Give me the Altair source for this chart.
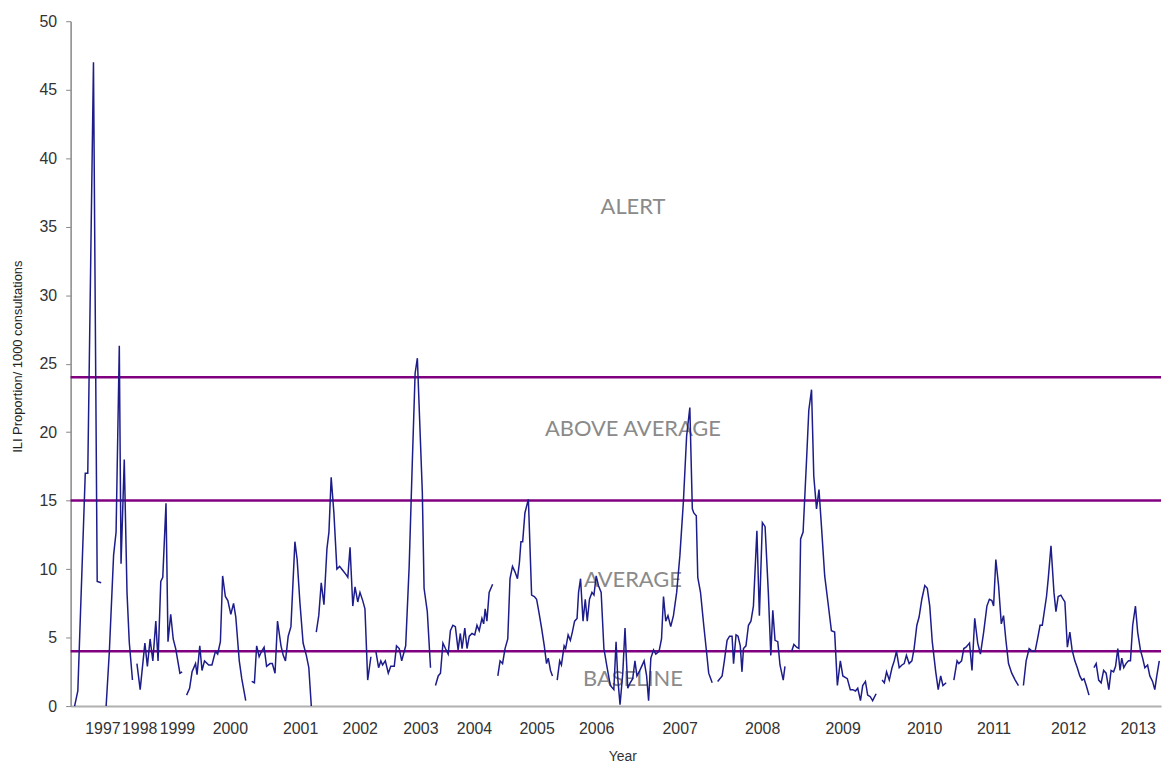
import altair as alt
import pandas as pd

# ---- data: weekly ILI proportion, segments separated by gaps in reporting ----
seg_weeks = [
    [1.6, 2.9, 5.9, 6.9, 9.2, 10.7, 12.3],
    [14.3, 15.6, 17.3, 18.3, 19.6, 20.3, 21.6, 22.7, 23.6, 24.9],
    [26.7, 28.0, 29.9, 30.9, 32.0, 33.1, 34.3, 35.2, 36.3, 37.1, 38.4, 39.2, 40.3, 41.3, 42.3, 44.0, 44.9],
    [46.7, 47.9, 48.9, 50.3, 50.9, 52.0, 52.9, 53.9, 55.6, 56.9, 58.3, 59.2, 60.3, 61.2, 62.3, 63.3, 64.5,
     65.6, 66.5, 67.9, 68.9, 70.5],
    [72.9, 74.0, 74.9, 75.9, 76.9, 77.9, 78.9, 80.3, 81.2, 82.3, 83.3, 84.7, 85.6, 86.5, 87.6, 88.7, 90.3,
     91.2, 92.3, 93.6, 94.9, 95.9, 96.9],
    [98.9, 99.9, 100.9, 102.0, 103.2, 104.0, 104.9, 106.0, 107.2, 108.3, 109.6, 110.9, 111.6, 112.5, 113.6,
     114.5, 115.6, 116.5, 117.6, 118.5, 119.6, 120.9],
    [122.9, 124.0, 124.9, 125.6, 126.7, 127.9, 128.9, 130.3, 131.2, 132.3, 133.3, 134.9, 136.3, 137.6, 138.7,
     139.6, 141.6, 142.3, 143.6, 144.9],
    [146.9, 148.0, 148.9, 149.9, 150.9, 152.0, 152.9, 153.9, 154.9, 156.0, 156.9, 157.6, 158.7, 159.6, 160.5,
     161.6, 162.7, 163.6, 164.5, 165.6, 166.3, 166.9, 167.6, 168.5, 169.9],
    [172.0, 172.9, 173.9, 174.9, 176.0, 176.9, 177.9, 178.9, 179.9, 180.7, 181.3, 182.0, 182.9, 184.3, 185.6,
     186.7, 187.6, 188.5, 189.6, 190.7, 191.6, 192.3, 193.2, 194.0],
    [195.9, 196.9, 197.6, 198.7, 199.3, 200.3, 201.2, 202.0, 202.9, 203.9, 204.5, 205.3, 206.3, 207.2, 208.0,
     208.9, 209.9, 210.7, 211.6, 212.5, 213.6, 214.7, 216.0, 217.3, 218.7, 219.6, 220.3, 221.2, 222.3, 223.2,
     224.3, 225.3, 226.3, 227.2, 228.0, 228.9, 229.9, 230.9, 231.9, 232.7, 233.6, 234.7, 235.6, 236.9, 237.9,
     238.7, 239.6, 240.5, 241.6, 242.7, 244.0, 245.3, 246.7, 248.0, 249.3, 250.3, 250.9, 251.9, 252.5, 253.6,
     254.9, 256.0, 256.9, 258.3],
    [260.5, 262.3, 263.2, 264.3, 265.3, 266.3, 266.9, 267.9, 268.7, 269.6, 270.3, 270.9, 271.9, 272.9, 273.9,
     274.9, 276.3, 277.3, 278.5, 279.6, 280.9, 281.9, 282.7, 283.6, 284.7, 285.6, 286.9, 287.6],
    [290.3, 291.2, 292.3, 293.2, 293.9, 294.9, 296.3, 297.2, 298.3, 299.2, 300.3, 301.3, 302.3, 303.6, 304.9,
     306.3, 307.6, 308.7, 309.9, 310.9, 312.7, 313.9, 314.9, 316.0, 316.9, 318.0, 318.9, 320.0, 320.9, 321.9,
     322.9, 324.3],
    [326.7, 327.6, 328.5, 329.6, 330.7, 331.6, 332.5, 333.6, 334.7, 335.6, 336.5, 337.6, 338.7, 339.6, 340.7,
     341.6, 342.7, 343.9, 344.9, 345.9, 346.9, 348.3, 349.3, 350.3, 351.2, 352.5],
    [355.6, 356.9, 357.6, 358.7, 359.6, 360.5, 361.9, 362.9, 364.0, 365.2, 366.3, 367.6, 368.9, 369.9, 370.9,
     371.6, 372.5, 373.6, 374.7, 375.6, 376.5, 377.6, 378.9, 380.3, 381.6],
    [383.6, 384.7, 385.9, 387.2, 388.3, 389.3, 390.3, 391.2, 392.0, 392.9, 393.6, 394.7, 395.9, 396.7, 397.6,
     398.7, 399.6, 400.3, 401.3, 402.3, 403.2, 404.3, 405.3, 406.3, 407.2, 408.0, 408.9, 410.0],
    [412.0, 412.9, 413.9, 414.9, 415.9, 416.9, 418.0, 418.9, 419.9, 420.7, 421.6, 422.5, 423.2, 424.0, 424.9,
     425.9, 426.7, 427.6, 428.7, 429.6, 430.7, 431.6, 432.5, 433.6, 434.5, 435.6, 436.5, 437.3, 438.3],
]

seg_values = [
    [0, 1.1, 17, 17, 47, 9.1, 9.0],
    [0, 4.0, 11.0, 12.7, 26.3, 10.4, 18.0, 8.3, 4.7, 1.9],
    [3.1, 1.2, 4.6, 2.9, 4.9, 3.3, 6.2, 3.3, 9.1, 9.4, 14.8, 4.7, 6.7, 4.9, 4.2, 2.4, 2.5],
    [0.8, 1.3, 2.5, 3.1, 2.3, 4.4, 2.6, 3.3, 3.0, 3.0, 4.0, 3.8, 4.7, 9.5, 8.0, 7.7, 6.7,
     7.5, 6.5, 3.3, 2.0, 0.4],
    [1.8, 1.7, 4.4, 3.6, 4.0, 4.3, 2.9, 3.1, 3.1, 2.4, 6.2, 4.4, 3.7, 3.3, 5.1, 5.8, 12.0,
     10.7, 7.6, 4.6, 3.7, 2.8, 0],
    [5.4, 6.6, 9.0, 7.4, 11.5, 12.7, 16.7, 14.1, 10.0, 10.2, 9.9, 9.6, 9.4, 11.6, 7.3,
     8.7, 7.6, 8.3, 7.7, 7.1, 1.9, 3.6],
    [4.0, 2.8, 3.3, 3.0, 3.3, 2.4, 2.9, 2.9, 4.4, 4.2, 3.3, 4.4, 10.2, 18.0, 24.3,
     25.4, 15.6, 8.6, 6.9, 2.8],
    [1.5, 2.2, 2.4, 4.6, 4.2, 3.8, 5.5, 5.9, 5.8, 4.1, 5.3, 4.2, 5.7, 4.2, 5.1,
     5.3, 5.2, 5.9, 5.5, 6.4, 6.0, 7.1, 6.2, 8.3, 8.9],
    [2.2, 3.3, 3.1, 4.2, 4.9, 9.3, 10.2, 9.8, 9.3, 10.5, 12.0, 12.0, 14.1, 15.1, 8.1,
     8.0, 7.8, 6.9, 5.7, 4.4, 3.1, 3.5, 2.6, 2.2],
    [1.9, 3.3, 3.0, 4.4, 4.2, 5.2, 4.8, 5.4, 6.2, 6.4, 8.3, 9.3, 6.2, 7.8, 6.2,
     7.8, 8.3, 8.1, 9.5, 8.8, 8.3, 4.2, 2.8, 1.5, 1.2, 4.7, 2.0, 0.1, 2.4, 5.7,
     1.3, 1.7, 2.0, 3.3, 2.2, 2.5, 2.9, 3.3, 2.2, 0.4, 3.5, 4.1, 3.8, 4.0, 4.9,
     8.0, 6.2, 6.6, 5.8, 6.6, 8.3, 11.0, 14.9, 19.7, 21.8, 14.4, 14.1, 13.9, 9.4, 8.3,
     5.9, 4.0, 2.4, 1.7],
    [1.8, 2.2, 3.3, 4.8, 5.1, 5.1, 3.1, 5.2, 5.1, 4.4, 2.5, 4.2, 4.4, 5.9, 6.2,
     7.3, 12.8, 6.6, 13.4, 13.1, 8.3, 3.7, 7.0, 4.8, 4.7, 3.0, 1.9, 2.9],
    [4.0, 4.5, 4.3, 4.2, 12.2, 12.7, 18.0, 21.6, 23.1, 16.8, 14.4, 15.8, 13.1, 9.5, 7.6,
     5.5, 5.4, 1.5, 3.3, 2.2, 2.0, 1.2, 1.2, 1.1, 1.3, 0.4, 1.5, 1.8, 0.8, 0.7,
     0.4, 0.9],
    [1.9, 1.7, 2.5, 1.9, 2.8, 3.3, 4.0, 2.8, 3.0, 3.1, 3.7, 3.1, 3.3, 4.2, 5.9,
     6.5, 7.8, 8.8, 8.6, 7.3, 4.7, 2.5, 1.2, 2.2, 1.5, 1.7],
    [1.9, 3.3, 3.1, 3.3, 4.2, 4.3, 4.6, 2.6, 6.4, 4.6, 3.8, 5.4, 7.3, 7.8, 7.7,
     7.3, 10.7, 8.8, 6.0, 6.6, 4.9, 3.1, 2.4, 1.9, 1.5],
    [1.5, 3.3, 4.2, 4.0, 4.0, 4.9, 5.9, 5.9, 6.9, 8.0, 9.3, 11.7, 8.3, 6.9, 8.0,
     8.1, 7.8, 7.6, 4.3, 5.4, 4.1, 3.3, 2.8, 2.2, 1.9, 2.0, 1.5, 0.8],
    [2.8, 3.1, 1.9, 1.7, 2.6, 2.4, 1.2, 2.6, 2.5, 2.9, 4.2, 2.6, 3.5, 2.8, 3.1,
     3.3, 3.3, 5.9, 7.3, 5.4, 4.1, 3.5, 2.8, 3.0, 2.2, 1.8, 1.2, 2.2, 3.3],
]

year_labels = ["1997", "1998", "1999", "2000", "2001", "2002", "2003", "2004", "2005",
               "2006", "2007", "2008", "2009", "2010", "2011", "2012", "2013"]
year_weeks = [12.8, 27.6, 42.8, 64.1, 92.4, 116.4, 140.8, 162.4, 187.6,
              211.6, 245.2, 278.4, 310.8, 343.6, 371.6, 401.6, 429.6]

thresholds = [24, 15, 4]

zone_labels = ["ALERT", "ABOVE AVERAGE", "AVERAGE", "BASELINE"]
zone_values = [36.4, 20.2, 9.2, 2.0]
zone_week = 226.4

# ---- build tables ----
rows = []
for i, (ws, vs) in enumerate(zip(seg_weeks, seg_values)):
    for w, v in zip(ws, vs):
        rows.append({"week": w, "ili": v, "seg": i})
series = pd.DataFrame(rows)
thr_df = pd.DataFrame({"level": thresholds})
zones_df = pd.DataFrame({"label": zone_labels, "ili": zone_values,
                         "week": [zone_week] * len(zone_labels)})

label_map = "{" + ",".join(f"'{w:g}':'{l}'" for w, l in zip(year_weeks, year_labels)) + "}"

x_scale = alt.Scale(domain=[0, 439], nice=False, zero=False)
y_scale = alt.Scale(domain=[0, 50], nice=False)

x_axis = alt.Axis(
    values=year_weeks,
    labelExpr=f"{label_map}['' + datum.value]",
    ticks=False, tickSize=0, grid=False,
    labelPadding=15, labelFontSize=16, labelFont="Liberation Sans",
    labelColor="#333333", labelBaseline="top", labelFlush=False, labelOverlap=False,
    domainColor="#b0b0b0", domainWidth=2,
    title="Year", titleFont="Liberation Sans", titleFontSize=14, titleFontWeight="normal",
    titleColor="#333333", titleX=555, titleY=44, titleBaseline="top", titleAlign="center",
)
y_axis = alt.Axis(
    values=list(range(0, 51, 5)), grid=False,
    tickSize=5, tickColor="#888888", labelPadding=9,
    labelFontSize=16, labelFont="Liberation Sans", labelColor="#333333",
    domainColor="#888888", domainWidth=1.5,
    title="ILI Proportion/ 1000 consultations", titleFont="Liberation Sans",
    titleFontSize=13, titleFontWeight="normal", titleColor="#222222",
    titleX=-46, titleY=337, titleAngle=270, titleAlign="center", titleBaseline="bottom",
)

base_x = alt.X("week:Q", scale=x_scale, axis=x_axis)
base_y = alt.Y("ili:Q", scale=y_scale, axis=y_axis)

zones = alt.Chart(zones_df).mark_text(
    font="Lato", fontSize=22, color="#8a8a8a", baseline="middle", align="center"
).encode(x=alt.X("week:Q", scale=x_scale), y=alt.Y("ili:Q", scale=y_scale), text="label:N")

rules = alt.Chart(thr_df).mark_rule(color="#800080", strokeWidth=2.5).encode(
    y=alt.Y("level:Q", scale=y_scale)
)

line = alt.Chart(series).mark_line(color="#1c1c8a", strokeWidth=1.5).encode(
    x=base_x, y=base_y, detail="seg:N"
)

chart = alt.layer(zones, rules, line).properties(
    width=1097, height=689,
    autosize=alt.AutoSizeParams(type="none"),
    padding={"left": 63, "top": 11, "right": 2, "bottom": 59},
).configure(background="white").configure_view(stroke=None)

chart.save("out.html", embed_options={"renderer": "svg", "actions": False})
